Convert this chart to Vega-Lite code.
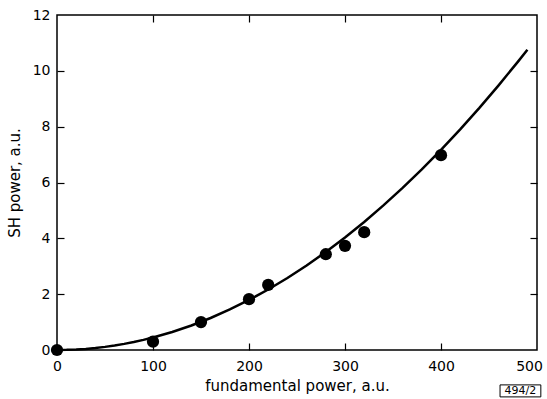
{
  "$schema": "https://vega.github.io/schema/vega-lite/v6.json",
  "width": 480,
  "height": 335,
  "autosize": "none",
  "padding": {"left": 57, "top": 15, "right": 10, "bottom": 49},
  "background": "white",
  "config": {
    "view": {"stroke": "black", "strokeWidth": 1.5},
    "font": "DejaVu Sans",
    "axis": {
      "grid": false,
      "domain": false,
      "tickColor": "black",
      "tickWidth": 1.2,
      "labelFont": "DejaVu Sans",
      "labelFontSize": 14,
      "labelColor": "black",
      "labelFlush": false,
      "titleFont": "DejaVu Sans",
      "titleFontSize": 15,
      "titleFontWeight": "normal",
      "titleColor": "black"
    }
  },
  "datasets": {
    "pts": [
      {"x": 0, "y": 0}, {"x": 100, "y": 0.3}, {"x": 150, "y": 1.0},
      {"x": 200, "y": 1.82}, {"x": 220, "y": 2.33}, {"x": 280, "y": 3.43},
      {"x": 300, "y": 3.73}, {"x": 320, "y": 4.22}, {"x": 400, "y": 6.98}
    ],
    "fit": [
      {"x": 0, "y": 0}, {"x": 10, "y": 0.0045}, {"x": 20, "y": 0.018},
      {"x": 30, "y": 0.040}, {"x": 40, "y": 0.072}, {"x": 50, "y": 0.112},
      {"x": 60, "y": 0.161}, {"x": 70, "y": 0.220}, {"x": 80, "y": 0.287},
      {"x": 90, "y": 0.363}, {"x": 100, "y": 0.448}, {"x": 120, "y": 0.645},
      {"x": 140, "y": 0.878}, {"x": 160, "y": 1.147}, {"x": 180, "y": 1.452},
      {"x": 200, "y": 1.792}, {"x": 220, "y": 2.168}, {"x": 240, "y": 2.580},
      {"x": 260, "y": 3.028}, {"x": 280, "y": 3.512}, {"x": 300, "y": 4.032},
      {"x": 320, "y": 4.588}, {"x": 340, "y": 5.179}, {"x": 360, "y": 5.806},
      {"x": 380, "y": 6.469}, {"x": 400, "y": 7.168}, {"x": 420, "y": 7.903},
      {"x": 440, "y": 8.673}, {"x": 460, "y": 9.480}, {"x": 480, "y": 10.322},
      {"x": 490, "y": 10.756}
    ],
    "tag": [
      {"x": 461.5, "x2": 504, "y": -1.25, "y2": -1.68, "xc": 482.7, "yc": -1.465, "label": "494/2"}
    ]
  },
  "resolve": {"axis": {"x": "independent", "y": "independent"}},
  "layer": [
    {
      "data": {"name": "fit"},
      "mark": {"type": "line", "color": "black", "strokeWidth": 2.5, "clip": false},
      "encoding": {
        "x": {"field": "x", "type": "quantitative", "scale": {"domain": [0, 500], "nice": false},
          "axis": {"orient": "bottom", "values": [0, 100, 200, 300, 400, 500], "ticks": false, "title": "fundamental power, a.u.", "labelPadding": 9, "titlePadding": 5,
            "labelOffset": {"expr": "datum.value == 500 ? -8 : 0"}}},
        "y": {"field": "y", "type": "quantitative", "scale": {"domain": [0, 12], "nice": false},
          "axis": {"orient": "left", "values": [0, 2, 4, 6, 8, 10, 12], "ticks": false, "title": "SH power, a.u.", "labelPadding": 7, "titlePadding": 10}}
      }
    },
    {
      "data": {"name": "pts"},
      "mark": {"type": "point", "filled": true, "color": "black", "opacity": 1, "size": 150, "clip": false},
      "encoding": {
        "x": {"field": "x", "type": "quantitative",
          "axis": {"orient": "top", "values": [100, 200, 300, 400], "labels": false, "tickSize": 7, "offset": -7, "title": null}},
        "y": {"field": "y", "type": "quantitative",
          "axis": {"orient": "right", "values": [2, 4, 6, 8, 10], "labels": false, "tickSize": 7, "offset": -7, "title": null}}
      }
    },
    {
      "data": {"name": "tag"},
      "mark": {"type": "rect", "fill": "white", "stroke": "black", "strokeWidth": 1, "clip": false},
      "encoding": {
        "x": {"field": "x", "type": "quantitative",
          "axis": {"orient": "bottom", "values": [100, 200, 300, 400], "labels": false, "tickSize": 7, "offset": -7, "title": null}},
        "x2": {"field": "x2"},
        "y": {"field": "y", "type": "quantitative",
          "axis": {"orient": "left", "values": [2, 4, 6, 8, 10], "labels": false, "tickSize": 7, "offset": -7, "title": null}},
        "y2": {"field": "y2"}
      }
    },
    {
      "data": {"name": "tag"},
      "mark": {"type": "text", "fontSize": 11, "font": "DejaVu Sans", "color": "black", "clip": false, "baseline": "middle", "align": "center"},
      "encoding": {
        "x": {"field": "xc", "type": "quantitative", "axis": null},
        "y": {"field": "yc", "type": "quantitative", "axis": null},
        "text": {"field": "label"}
      }
    }
  ]
}
